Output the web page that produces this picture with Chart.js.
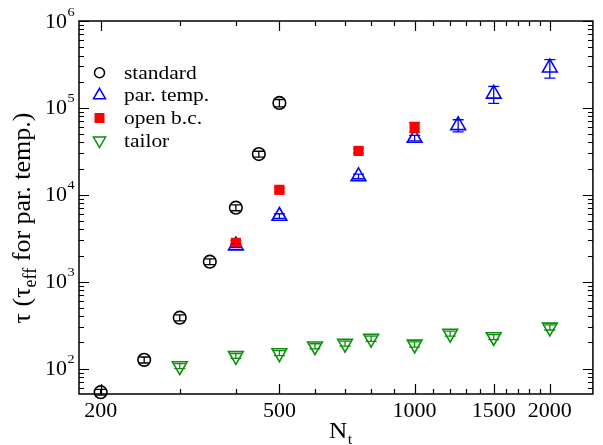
<!DOCTYPE html>
<html>
<head>
<meta charset="utf-8">
<script src="https://cdn.jsdelivr.net/npm/chart.js@4/dist/chart.umd.min.js"></script>
<style>
  html, body { margin: 0; padding: 0; background: #fff; }
  #wrap { width: 603px; height: 445px; }
</style>
</head>
<body>
<div id="wrap"><canvas id="myChart" width="603" height="445"></canvas></div>
<script>
// values (N_t, tau, error)
const stdN = [200, 250, 300, 350, 400, 450, 500];
const stdTau = [53.5, 126, 385, 1700, 7100, 29400, 114000];
const stdErr = [4, 10, 30, 130, 550, 2300, 11000];

const ptN = [400, 500, 750, 1000, 1250, 1500, 2000];
const ptTau = [2600, 5700, 16300, 45000, 63000, 145000, 290000];
const ptErr = [130, 350, 1000, 3200, 10000, 32000, 70000];

const obcN = [400, 500, 750, 1000];
const obcTau = [2800, 11400, 32000, 60000];
const obcErr = [150, 600, 2000, 8000];

const tailN = [300, 400, 500, 600, 700, 800, 1000, 1200, 1500, 2000];
const tailTau = [107, 140, 151, 181, 194, 221, 190, 253, 231, 298];
const tailErr = [7, 9, 10, 12, 13, 15, 13, 17, 15, 20];

const xTickLabels = [200, 500, 1000, 1500, 2000];
const yDecades = [2, 3, 4, 5, 6];
const seriesNames = ['standard', 'par. temp.', 'open b.c.', 'tailor'];

const SERIF = '"Liberation Serif", "DejaVu Serif", serif';
const STRETCH = 1.1;
const CAP = 5.5;
const GREEN = '#0a8f0a';

function pts(xs, ys) {
    return xs.map((v, i) => ({ x: v, y: ys[i] }));
}

function drawText(ctx, text, x, y, size, align) {
    ctx.save();
    ctx.font = size + 'px ' + SERIF;
    const w = ctx.measureText(text).width * STRETCH;
    const left = align === 'center' ? x - w / 2 : align === 'right' ? x - w : x;
    ctx.translate(left, y);
    ctx.scale(STRETCH, 1);
    ctx.textAlign = 'left';
    ctx.textBaseline = 'alphabetic';
    ctx.fillStyle = '#000';
    ctx.fillText(text, 0, 0);
    ctx.restore();
    return w;
}

const errorBars = {
    id: 'errorBars',
    afterDatasetsDraw(chart) {
        const { ctx, scales: { x, y } } = chart;
        ctx.save();
        ctx.lineWidth = 1.3;
        chart.data.datasets.forEach(ds => {
            ctx.strokeStyle = ds.borderColor;
            ds.data.forEach((p, i) => {
                const e = ds.errors[i];
                const px = x.getPixelForValue(p.x);
                const top = y.getPixelForValue(p.y + e);
                const bot = y.getPixelForValue(p.y - e);
                ctx.beginPath();
                ctx.moveTo(px, top); ctx.lineTo(px, bot);
                ctx.moveTo(px - CAP, top); ctx.lineTo(px + CAP, top);
                ctx.moveTo(px - CAP, bot); ctx.lineTo(px + CAP, bot);
                ctx.stroke();
            });
        });
        ctx.restore();
    }
};

const frame = {
    id: 'frame',
    afterDraw(chart) {
        const { ctx, chartArea: a, scales: { x, y } } = chart;
        ctx.save();
        ctx.strokeStyle = '#000';
        ctx.lineWidth = 1.5;
        ctx.strokeRect(a.left, a.top, a.right - a.left, a.bottom - a.top);

        // inward ticks on all four sides
        ctx.lineWidth = 1.2;
        ctx.beginPath();
        for (let v = 200; v <= 2000; v += 100) {
            const px = Math.round(x.getPixelForValue(v)) + 0.5;
            const len = xTickLabels.includes(v) ? 10 : 5;
            ctx.moveTo(px, a.bottom); ctx.lineTo(px, a.bottom - len);
            ctx.moveTo(px, a.top); ctx.lineTo(px, a.top + len);
        }
        for (let d = 1; d <= 6; d++) {
            for (let m = 1; m <= 9; m++) {
                const v = m * Math.pow(10, d);
                if (v < y.min || v > y.max) continue;
                const py = Math.round(y.getPixelForValue(v)) + 0.5;
                const len = m === 1 ? 10 : 5;
                ctx.moveTo(a.left, py); ctx.lineTo(a.left + len, py);
                ctx.moveTo(a.right, py); ctx.lineTo(a.right - len, py);
            }
        }
        ctx.stroke();

        // tick labels
        xTickLabels.forEach(v => {
            drawText(ctx, String(v), x.getPixelForValue(v), 417, 20, 'center');
        });
        yDecades.forEach(d => {
            const py = y.getPixelForValue(Math.pow(10, d));
            drawText(ctx, '10', 67, py + 6.5, 20, 'right');
            drawText(ctx, String(d), 67.5, py - 5.5, 13, 'left');
        });

        // x title N_t
        const wN = drawText(ctx, 'N', 329, 438, 23, 'left');
        drawText(ctx, 't', 329 + wN + 0.5, 444, 15, 'left');

        // y title, rotated
        ctx.save();
        ctx.translate(30, 218);
        ctx.rotate(-Math.PI / 2);
        ctx.fillStyle = '#000';
        ctx.textBaseline = 'alphabetic';
        const big = 26, small = 18;
        ctx.font = big + 'px ' + SERIF;
        const p1 = 'τ (τ', p3 = ' for par. temp.)';
        const w1 = ctx.measureText(p1).width;
        const w3 = ctx.measureText(p3).width;
        ctx.font = small + 'px ' + SERIF;
        const w2 = ctx.measureText('eff').width;
        let cx = -(w1 + w2 + w3) / 2;
        ctx.font = big + 'px ' + SERIF;
        ctx.fillText(p1, cx, 0); cx += w1;
        ctx.font = small + 'px ' + SERIF;
        ctx.fillText('eff', cx, 6); cx += w2;
        ctx.font = big + 'px ' + SERIF;
        ctx.fillText(p3, cx, 0);
        ctx.restore();

        // legend
        const rows = [72.7, 95.3, 117.9, 140.5];
        const marks = [
            { pointStyle: 'circle', radius: 5, rotation: 0, color: '#000', fill: false },
            { pointStyle: 'triangle', radius: 7, rotation: 0, color: '#0000ff', fill: false },
            { pointStyle: 'rect', radius: 6, rotation: 0, color: '#ff0000', fill: true },
            { pointStyle: 'triangle', radius: 7, rotation: 180, color: GREEN, fill: false }
        ];
        marks.forEach((mk, i) => {
            ctx.save();
            ctx.strokeStyle = mk.color;
            ctx.fillStyle = mk.fill ? mk.color : 'rgba(0,0,0,0)';
            ctx.lineWidth = 1.5;
            Chart.helpers.drawPoint(ctx, { pointStyle: mk.pointStyle, radius: mk.radius, rotation: mk.rotation, borderWidth: 1.5 }, 99.5, rows[i]);
            ctx.restore();
            drawText(ctx, seriesNames[i], 124, rows[i] + 6, 19.5, 'left');
        });
        ctx.restore();
    }
};

const ctx = document.getElementById('myChart').getContext('2d');

new Chart(ctx, {
    type: 'scatter',
    data: {
        datasets: [
            {
                label: seriesNames[0],
                data: pts(stdN, stdTau),
                errors: stdErr,
                pointStyle: 'circle',
                pointRadius: 6.3,
                borderColor: '#000000',
                backgroundColor: 'rgba(0,0,0,0)',
                borderWidth: 1.6,
                clip: false,
                order: 0
            },
            {
                label: seriesNames[1],
                data: pts(ptN, ptTau),
                errors: ptErr,
                pointStyle: 'triangle',
                pointRadius: 8.5,
                borderColor: '#0000ff',
                backgroundColor: 'rgba(0,0,0,0)',
                borderWidth: 1.6,
                clip: false,
                order: 2
            },
            {
                label: seriesNames[2],
                data: pts(obcN, obcTau),
                errors: obcErr,
                pointStyle: 'rect',
                pointRadius: 7.2,
                borderColor: '#ff0000',
                backgroundColor: '#ff0000',
                borderWidth: 0,
                clip: false,
                order: 1
            },
            {
                label: seriesNames[3],
                data: pts(tailN, tailTau),
                errors: tailErr,
                pointStyle: 'triangle',
                pointRotation: 180,
                pointRadius: 8.5,
                borderColor: GREEN,
                backgroundColor: 'rgba(0,0,0,0)',
                borderWidth: 1.6,
                clip: false,
                order: 3
            }
        ]
    },
    options: {
        responsive: false,
        animation: false,
        devicePixelRatio: 1,
        layout: { padding: { top: 21, right: 6, left: 0, bottom: 0 } },
        plugins: {
            legend: { display: false },
            tooltip: { enabled: false }
        },
        scales: {
            x: {
                type: 'logarithmic',
                min: 179,
                max: 2494,
                grid: { display: false },
                border: { display: false },
                ticks: { display: false },
                afterFit(s) { s.height = 51; }
            },
            y: {
                type: 'logarithmic',
                min: 51,
                max: 1e6,
                grid: { display: false },
                border: { display: false },
                ticks: { display: false },
                afterFit(s) { s.width = 79; }
            }
        }
    },
    plugins: [errorBars, frame]
});
</script>
</body>
</html>
